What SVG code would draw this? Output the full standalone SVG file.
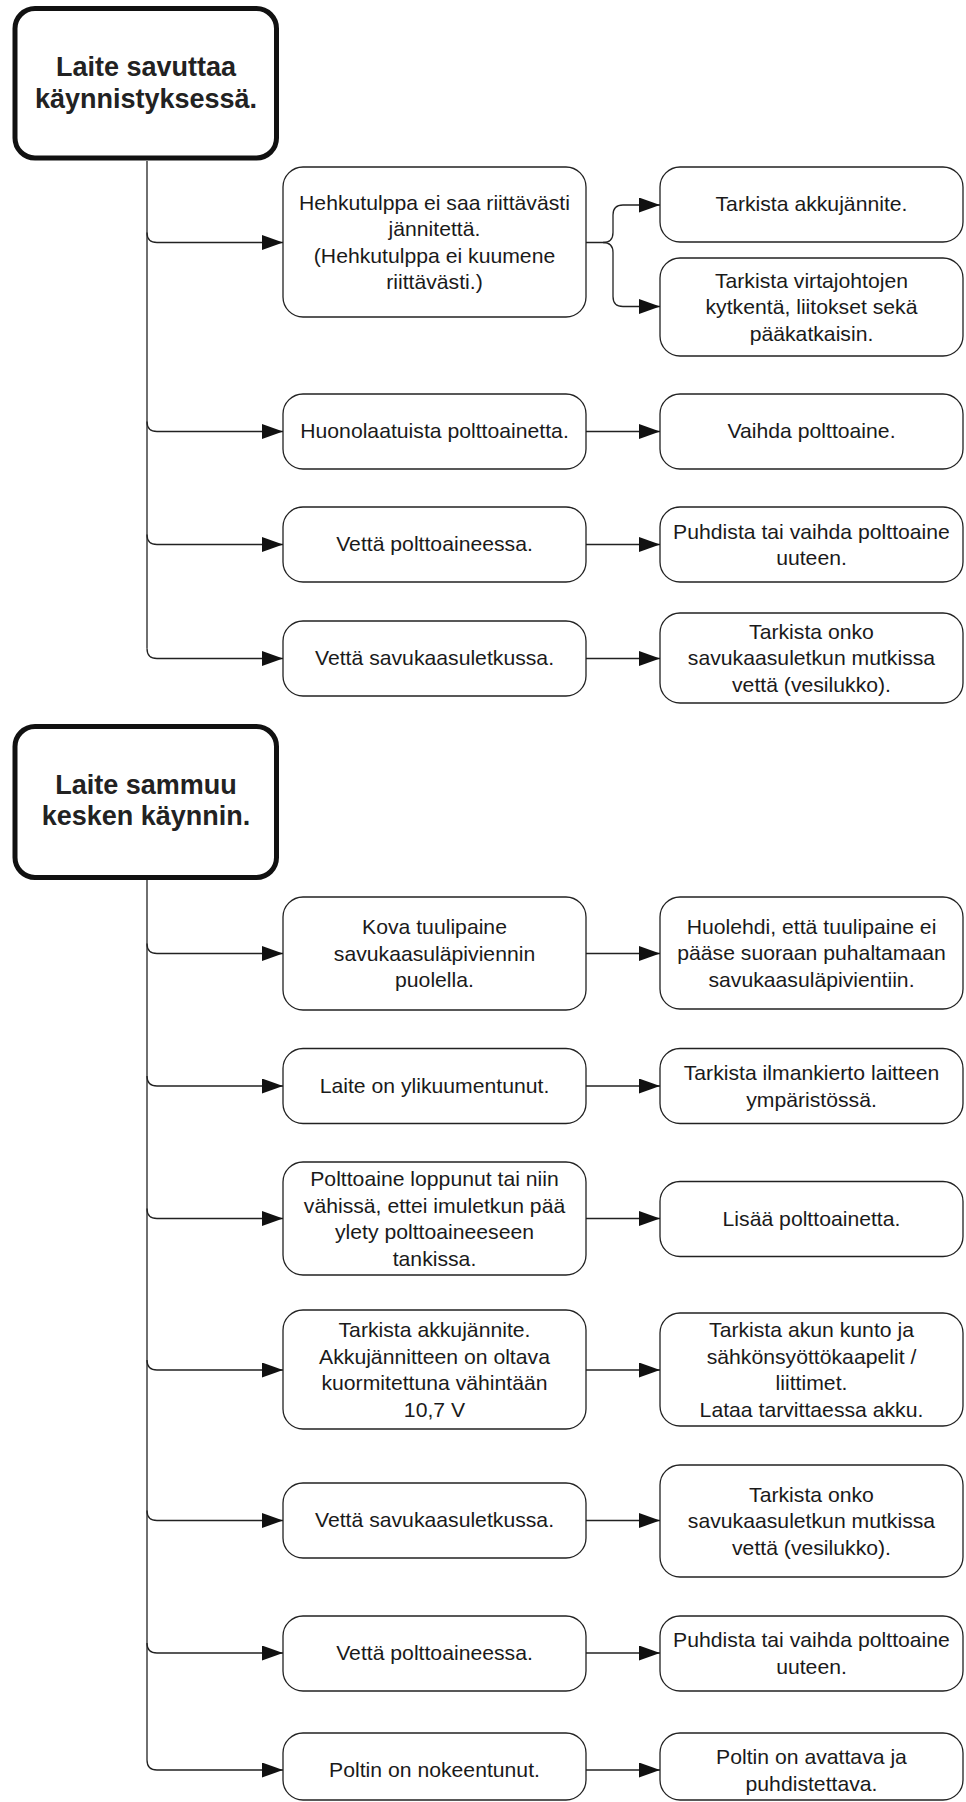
<svg xmlns="http://www.w3.org/2000/svg" width="966" height="1802" viewBox="0 0 966 1802">
<style>
.head{fill:#fff;stroke:#111;stroke-width:5}
.box{fill:#fff;stroke:#222;stroke-width:1.3}
.ht{font-family:"Liberation Sans",Arial,sans-serif;font-weight:bold;font-size:27px;fill:#222;text-anchor:middle}
.t{font-family:"Liberation Sans",Arial,sans-serif;font-size:20px;fill:#1a1a1a;text-anchor:middle}
.c{fill:none;stroke:#222;stroke-width:1.3}
</style>
<defs>
<marker id="arr" markerUnits="userSpaceOnUse" viewBox="0 0 21 15" refX="21" refY="7.5" markerWidth="21" markerHeight="15" orient="auto">
<path d="M0,0 L21,7.5 L0,15 z" fill="#111"/>
</marker>
</defs>
<rect width="966" height="1802" fill="#fff"/>
<g id="connectors">
<path class="c" d="M147,161 V648.5"/>
<path class="c" d="M147,232.5 Q147,242.5 157,242.5 H283" marker-end="url(#arr)"/>
<path class="c" d="M147,421.5 Q147,431.5 157,431.5 H283" marker-end="url(#arr)"/>
<path class="c" d="M147,534.5 Q147,544.5 157,544.5 H283" marker-end="url(#arr)"/>
<path class="c" d="M147,648.5 Q147,658.5 157,658.5 H283" marker-end="url(#arr)"/>
<path class="c" d="M586,242.5 H603 Q613,242.5 613,232.5 V215 Q613,205 623,205 H660" marker-end="url(#arr)"/>
<path class="c" d="M603,242.5 Q613,242.5 613,252.5 V296.5 Q613,306.5 623,306.5 H660" marker-end="url(#arr)"/>
<path class="c" d="M586,431.5 H660" marker-end="url(#arr)"/>
<path class="c" d="M586,544.5 H660" marker-end="url(#arr)"/>
<path class="c" d="M586,658.5 H660" marker-end="url(#arr)"/>
<path class="c" d="M147,880 V1760"/>
<path class="c" d="M147,943.5 Q147,953.5 157,953.5 H283" marker-end="url(#arr)"/>
<path class="c" d="M147,1076 Q147,1086 157,1086 H283" marker-end="url(#arr)"/>
<path class="c" d="M147,1208.5 Q147,1218.5 157,1218.5 H283" marker-end="url(#arr)"/>
<path class="c" d="M147,1360 Q147,1370 157,1370 H283" marker-end="url(#arr)"/>
<path class="c" d="M147,1510.5 Q147,1520.5 157,1520.5 H283" marker-end="url(#arr)"/>
<path class="c" d="M147,1643 Q147,1653 157,1653 H283" marker-end="url(#arr)"/>
<path class="c" d="M147,1760 Q147,1770 157,1770 H283" marker-end="url(#arr)"/>
<path class="c" d="M586,953.5 H660" marker-end="url(#arr)"/>
<path class="c" d="M586,1086 H660" marker-end="url(#arr)"/>
<path class="c" d="M586,1218.5 H660" marker-end="url(#arr)"/>
<path class="c" d="M586,1370 H660" marker-end="url(#arr)"/>
<path class="c" d="M586,1520.5 H660" marker-end="url(#arr)"/>
<path class="c" d="M586,1653 H660" marker-end="url(#arr)"/>
<path class="c" d="M586,1770 H660" marker-end="url(#arr)"/>
</g>
<g id="head1">
<rect class="head" x="15" y="8.5" width="261.5" height="149.5" rx="20"/>
<text class="ht" x="146" y="76">Laite savuttaa</text>
<text class="ht" x="146" y="108">käynnistyksessä.</text>
</g>
<g id="a1">
<rect class="box" x="283" y="167" width="303" height="150" rx="20"/>
<text class="t" transform="scale(1.06,1)" x="409.91" y="209.75">Hehkutulppa ei saa riittävästi</text>
<text class="t" transform="scale(1.06,1)" x="409.91" y="236.25">jännitettä.</text>
<text class="t" transform="scale(1.06,1)" x="409.91" y="262.75">(Hehkutulppa ei kuumene</text>
<text class="t" transform="scale(1.06,1)" x="409.91" y="289.25">riittävästi.)</text>
</g>
<g id="b1">
<rect class="box" x="660" y="167" width="303" height="75" rx="20"/>
<text class="t" transform="scale(1.06,1)" x="765.57" y="211.5">Tarkista akkujännite.</text>
</g>
<g id="b2">
<rect class="box" x="660" y="258" width="303" height="98" rx="20"/>
<text class="t" transform="scale(1.06,1)" x="765.57" y="288">Tarkista virtajohtojen</text>
<text class="t" transform="scale(1.06,1)" x="765.57" y="314.5">kytkentä, liitokset sekä</text>
<text class="t" transform="scale(1.06,1)" x="765.57" y="341">pääkatkaisin.</text>
</g>
<g id="a2">
<rect class="box" x="283" y="394" width="303" height="75" rx="20"/>
<text class="t" transform="scale(1.06,1)" x="409.91" y="438.5">Huonolaatuista polttoainetta.</text>
</g>
<g id="b3">
<rect class="box" x="660" y="394" width="303" height="75" rx="20"/>
<text class="t" transform="scale(1.06,1)" x="765.57" y="438.5">Vaihda polttoaine.</text>
</g>
<g id="a3">
<rect class="box" x="283" y="507" width="303" height="75" rx="20"/>
<text class="t" transform="scale(1.06,1)" x="409.91" y="551.5">Vettä polttoaineessa.</text>
</g>
<g id="b4">
<rect class="box" x="660" y="507" width="303" height="75" rx="20"/>
<text class="t" transform="scale(1.06,1)" x="765.57" y="538.75">Puhdista tai vaihda polttoaine</text>
<text class="t" transform="scale(1.06,1)" x="765.57" y="565.25">uuteen.</text>
</g>
<g id="a4">
<rect class="box" x="283" y="621" width="303" height="75" rx="20"/>
<text class="t" transform="scale(1.06,1)" x="409.91" y="665.5">Vettä savukaasuletkussa.</text>
</g>
<g id="b5">
<rect class="box" x="660" y="613" width="303" height="90" rx="20"/>
<text class="t" transform="scale(1.06,1)" x="765.57" y="639">Tarkista onko</text>
<text class="t" transform="scale(1.06,1)" x="765.57" y="665.5">savukaasuletkun mutkissa</text>
<text class="t" transform="scale(1.06,1)" x="765.57" y="692">vettä (vesilukko).</text>
</g>
<g id="head2">
<rect class="head" x="15" y="726.5" width="261.5" height="151" rx="20"/>
<text class="ht" x="146" y="794">Laite sammuu</text>
<text class="ht" x="146" y="825">kesken käynnin.</text>
</g>
<g id="c1">
<rect class="box" x="283" y="897" width="303" height="113" rx="20"/>
<text class="t" transform="scale(1.06,1)" x="409.91" y="934.5">Kova tuulipaine</text>
<text class="t" transform="scale(1.06,1)" x="409.91" y="961">savukaasuläpiviennin</text>
<text class="t" transform="scale(1.06,1)" x="409.91" y="987.5">puolella.</text>
</g>
<g id="d1">
<rect class="box" x="660" y="897" width="303" height="112" rx="20"/>
<text class="t" transform="scale(1.06,1)" x="765.57" y="934">Huolehdi, että tuulipaine ei</text>
<text class="t" transform="scale(1.06,1)" x="765.57" y="960.5">pääse suoraan puhaltamaan</text>
<text class="t" transform="scale(1.06,1)" x="765.57" y="987">savukaasuläpivientiin.</text>
</g>
<g id="c2">
<rect class="box" x="283" y="1048.5" width="303" height="75" rx="20"/>
<text class="t" transform="scale(1.06,1)" x="409.91" y="1093">Laite on ylikuumentunut.</text>
</g>
<g id="d2">
<rect class="box" x="660" y="1048.5" width="303" height="75" rx="20"/>
<text class="t" transform="scale(1.06,1)" x="765.57" y="1080.25">Tarkista ilmankierto laitteen</text>
<text class="t" transform="scale(1.06,1)" x="765.57" y="1106.75">ympäristössä.</text>
</g>
<g id="c3">
<rect class="box" x="283" y="1162" width="303" height="113" rx="20"/>
<text class="t" transform="scale(1.06,1)" x="409.91" y="1186.25">Polttoaine loppunut tai niin</text>
<text class="t" transform="scale(1.06,1)" x="409.91" y="1212.75">vähissä, ettei imuletkun pää</text>
<text class="t" transform="scale(1.06,1)" x="409.91" y="1239.25">ylety polttoaineeseen</text>
<text class="t" transform="scale(1.06,1)" x="409.91" y="1265.75">tankissa.</text>
</g>
<g id="d3">
<rect class="box" x="660" y="1181.5" width="303" height="75" rx="20"/>
<text class="t" transform="scale(1.06,1)" x="765.57" y="1226">Lisää polttoainetta.</text>
</g>
<g id="c4">
<rect class="box" x="283" y="1310" width="303" height="119" rx="20"/>
<text class="t" transform="scale(1.06,1)" x="409.91" y="1337.25">Tarkista akkujännite.</text>
<text class="t" transform="scale(1.06,1)" x="409.91" y="1363.75">Akkujännitteen on oltava</text>
<text class="t" transform="scale(1.06,1)" x="409.91" y="1390.25">kuormitettuna vähintään</text>
<text class="t" transform="scale(1.06,1)" x="409.91" y="1416.75">10,7 V</text>
</g>
<g id="d4">
<rect class="box" x="660" y="1313" width="303" height="113" rx="20"/>
<text class="t" transform="scale(1.06,1)" x="765.57" y="1337.25">Tarkista akun kunto ja</text>
<text class="t" transform="scale(1.06,1)" x="765.57" y="1363.75">sähkönsyöttökaapelit /</text>
<text class="t" transform="scale(1.06,1)" x="765.57" y="1390.25">liittimet.</text>
<text class="t" transform="scale(1.06,1)" x="765.57" y="1416.75">Lataa tarvittaessa akku.</text>
</g>
<g id="c5">
<rect class="box" x="283" y="1483" width="303" height="75" rx="20"/>
<text class="t" transform="scale(1.06,1)" x="409.91" y="1527.5">Vettä savukaasuletkussa.</text>
</g>
<g id="d5">
<rect class="box" x="660" y="1465" width="303" height="112" rx="20"/>
<text class="t" transform="scale(1.06,1)" x="765.57" y="1502">Tarkista onko</text>
<text class="t" transform="scale(1.06,1)" x="765.57" y="1528.5">savukaasuletkun mutkissa</text>
<text class="t" transform="scale(1.06,1)" x="765.57" y="1555">vettä (vesilukko).</text>
</g>
<g id="c6">
<rect class="box" x="283" y="1616" width="303" height="75" rx="20"/>
<text class="t" transform="scale(1.06,1)" x="409.91" y="1660">Vettä polttoaineessa.</text>
</g>
<g id="d6">
<rect class="box" x="660" y="1616" width="303" height="75" rx="20"/>
<text class="t" transform="scale(1.06,1)" x="765.57" y="1647.25">Puhdista tai vaihda polttoaine</text>
<text class="t" transform="scale(1.06,1)" x="765.57" y="1673.75">uuteen.</text>
</g>
<g id="c7">
<rect class="box" x="283" y="1733" width="303" height="67" rx="20"/>
<text class="t" transform="scale(1.06,1)" x="409.91" y="1777">Poltin on nokeentunut.</text>
</g>
<g id="d7">
<rect class="box" x="660" y="1733" width="303" height="67" rx="20"/>
<text class="t" transform="scale(1.06,1)" x="765.57" y="1764.25">Poltin on avattava ja</text>
<text class="t" transform="scale(1.06,1)" x="765.57" y="1790.75">puhdistettava.</text>
</g>
</svg>
